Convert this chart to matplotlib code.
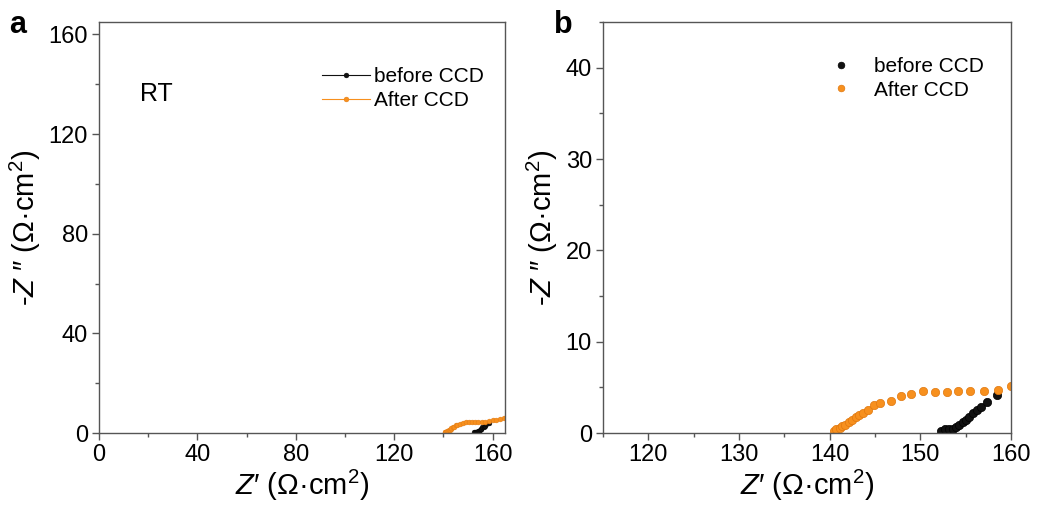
import matplotlib

matplotlib.use("Agg")

import matplotlib.pyplot as plt
from matplotlib.ticker import MultipleLocator

plt.rcParams["font.family"] = ["Liberation Sans", "DejaVu Sans"]
plt.rcParams["mathtext.fontset"] = "custom"
plt.rcParams["mathtext.rm"] = "Liberation Sans"
plt.rcParams["mathtext.it"] = "Liberation Sans:italic"

# EIS data (Ohm cm^2)
after_re = [140.45, 140.75, 141.1, 141.4, 141.7, 142.1, 142.5, 142.9, 143.25,
            143.7, 144.2, 144.9, 145.6, 146.75, 147.9, 149.0, 150.3, 151.6,
            152.9, 154.2, 155.5, 157.0, 158.6, 160.0, 161.5, 163.0, 164.5]
after_im = [0.25, 0.4, 0.55, 0.73, 0.9, 1.17, 1.39, 1.72, 1.94,
            2.22, 2.48, 3.03, 3.32, 3.54, 4.02, 4.3, 4.56, 4.52,
            4.52, 4.6, 4.56, 4.6, 4.67, 5.1, 5.3, 5.6, 6.0]
before_re = [152.24, 152.7, 153.15, 153.6, 153.97, 154.3, 154.7, 155.05,
             155.4, 155.85, 156.3, 156.7, 157.4, 158.5]
before_im = [0.22, 0.4, 0.44, 0.44, 0.69, 0.91, 1.17, 1.42,
             1.75, 2.22, 2.48, 2.81, 3.43, 4.13]

ORANGE = "#f7901e"
BLACK = "#111111"
SPINE = "#555555"

xlabel = r"$Z$′ (Ω·cm$^2$)"
ylabel = r"-$Z$ ″ (Ω·cm$^2$)"

fig = plt.figure(figsize=(10.37, 5.08), dpi=100)
W, H = 1037, 508
ax1 = fig.add_axes([99 / W, 75 / H, 406 / W, 411 / H])
ax2 = fig.add_axes([603 / W, 75 / H, 408 / W, 411 / H])


def style_axes(ax):
    for side in ax.spines.values():
        side.set_color(SPINE)
        side.set_linewidth(1.0)
    ax.tick_params(which="both", direction="out", color=SPINE, labelsize=17,
                   top=False, right=False)
    ax.tick_params(which="major", length=5, width=1.0, pad=3)
    ax.tick_params(which="minor", length=3, width=1.0)
    ax.set_xlabel(xlabel, fontsize=21, labelpad=1)
    ax.set_ylabel(ylabel, fontsize=21, labelpad=4)


# panel a
ax1.plot(before_re, before_im, "-o", color=BLACK, lw=0.8, ms=3.5,
         mec="#000000", mew=0.3, label="before CCD")
ax1.plot(after_re, after_im, "-o", color=ORANGE, lw=0.8, ms=3.5,
         mec="#e07810", mew=0.3, label="After CCD")
ax1.set_xlim(0, 165)
ax1.set_ylim(0, 165)
ax1.xaxis.set_major_locator(MultipleLocator(40))
ax1.xaxis.set_minor_locator(MultipleLocator(20))
ax1.yaxis.set_major_locator(MultipleLocator(40))
ax1.yaxis.set_minor_locator(MultipleLocator(20))
style_axes(ax1)
ax1.text(0.1, 0.825, "RT", transform=ax1.transAxes, fontsize=18, va="center")
ax1.legend(loc="upper right", bbox_to_anchor=(0.985, 0.925), frameon=False,
           fontsize=15, handlelength=2.3, handletextpad=0.2, labelspacing=0.22,
           borderaxespad=0.3)

# panel b
ax2.plot(before_re, before_im, "o", color=BLACK, ms=6, mec="#000000",
         mew=0.5, label="before CCD")
ax2.plot(after_re, after_im, "o", color=ORANGE, ms=6, mec="#e07810",
         mew=0.5, label="After CCD")
ax2.set_xlim(115, 160)
ax2.set_ylim(0, 45)
ax2.xaxis.set_major_locator(MultipleLocator(10))
ax2.xaxis.set_minor_locator(MultipleLocator(5))
ax2.yaxis.set_major_locator(MultipleLocator(10))
ax2.yaxis.set_minor_locator(MultipleLocator(5))
style_axes(ax2)
ax2.legend(loc="upper right", bbox_to_anchor=(0.97, 0.95), frameon=False,
           fontsize=15, handlelength=1.2, handletextpad=1.0, labelspacing=0.22,
           borderaxespad=0.3, markerscale=0.8)

fig.text(18 / W, 1 - 25 / H, "a", fontsize=22, fontweight="bold",
         ha="center", va="center")
fig.text(563 / W, 1 - 25 / H, "b", fontsize=22, fontweight="bold",
         ha="center", va="center")

fig.savefig("out.png", dpi=100)
plt.close(fig)
